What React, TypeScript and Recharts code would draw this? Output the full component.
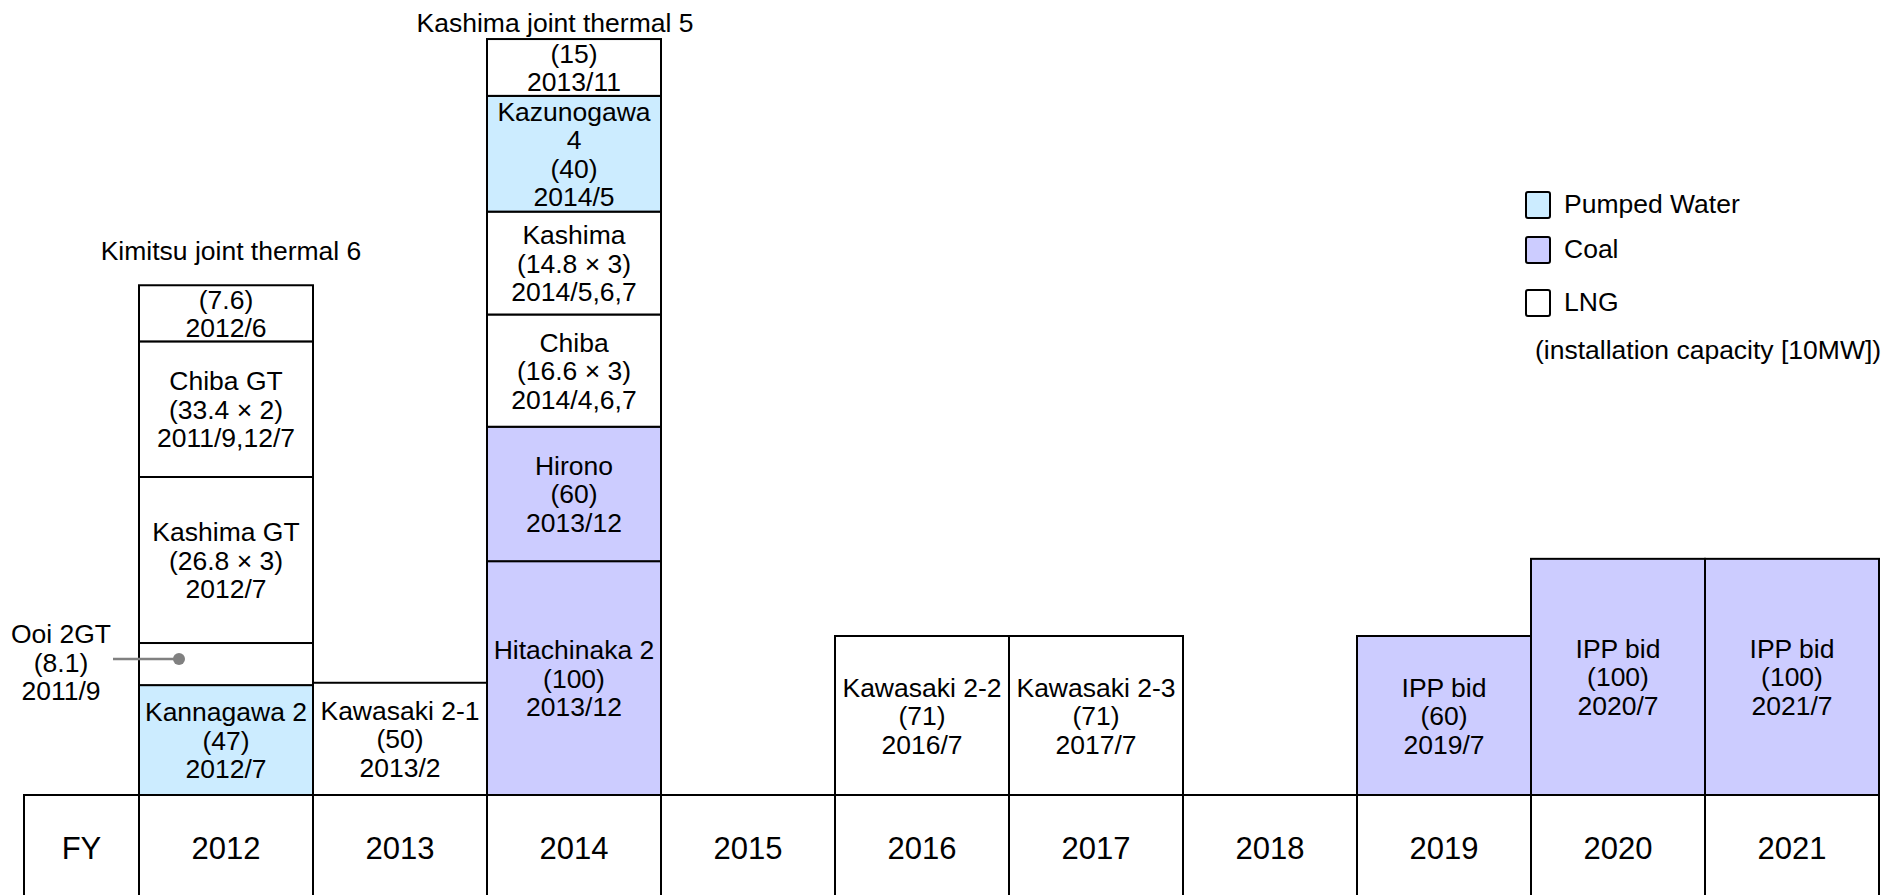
import React from 'react';
import { BarChart, Bar, XAxis, YAxis, Legend } from 'recharts';

const years = ['2012', '2013', '2014', '2015', '2016', '2017', '2018', '2019', '2020', '2021'];

// box heights as drawn in the figure (schematic), stack levels bottom -> top
const level0 = [47, 48, 100, 0, 68, 68, 0, 68, 101, 101];
const level1 = [18, 0, 57.5, 0, 0, 0, 0, 0, 0, 0];
const level2 = [71, 0, 48, 0, 0, 0, 0, 0, 0, 0];
const level3 = [58, 0, 44, 0, 0, 0, 0, 0, 0, 0];
const level4 = [24, 0, 49.5, 0, 0, 0, 0, 0, 0, 0];
const level5 = [0, 0, 24.3, 0, 0, 0, 0, 0, 0, 0];

// fuel type of each box
const kind0 = ['pumped', 'lng', 'coal', '', 'lng', 'lng', '', 'coal', 'coal', 'coal'];
const kind1 = ['lng', '', 'coal', '', '', '', '', '', '', ''];
const kind2 = ['lng', '', 'lng', '', '', '', '', '', '', ''];
const kind3 = ['lng', '', 'lng', '', '', '', '', '', '', ''];
const kind4 = ['lng', '', 'pumped', '', '', '', '', '', '', ''];
const kind5 = ['', '', 'lng', '', '', '', '', '', '', ''];

// box labels (installation capacity [10MW], start date)
const text0 = [
  'Kannagawa 2\n(47)\n2012/7',
  'Kawasaki 2-1\n(50)\n2013/2',
  'Hitachinaka 2\n(100)\n2013/12',
  '',
  'Kawasaki 2-2\n(71)\n2016/7',
  'Kawasaki 2-3\n(71)\n2017/7',
  '',
  'IPP bid\n(60)\n2019/7',
  'IPP bid\n(100)\n2020/7',
  'IPP bid\n(100)\n2021/7',
];
const text1 = ['', '', 'Hirono\n(60)\n2013/12', '', '', '', '', '', '', ''];
const text2 = ['Kashima GT\n(26.8 × 3)\n2012/7', '', 'Chiba\n(16.6 × 3)\n2014/4,6,7', '', '', '', '', '', '', ''];
const text3 = ['Chiba GT\n(33.4 × 2)\n2011/9,12/7', '', 'Kashima\n(14.8 × 3)\n2014/5,6,7', '', '', '', '', '', '', ''];
const text4 = ['(7.6)\n2012/6', '', 'Kazunogawa\n4\n(40)\n2014/5', '', '', '', '', '', '', ''];
const text5 = ['', '', '(15)\n2013/11', '', '', '', '', '', '', ''];

// callout next to the 2012 Ooi box
const callout1 = ['Ooi 2GT\n(8.1)\n2011/9', '', '', '', '', '', '', '', '', ''];

const titles = ['Kimitsu joint thermal 6', '', 'Kashima joint thermal 5', '', '', '', '', '', '', ''];

const fuelNames = ['Pumped Water', 'Coal', 'LNG'];
const fuelKeys = ['pumped', 'coal', 'lng'];
const unitNote = '(installation capacity [10MW])';

const levels = [level0, level1, level2, level3, level4, level5];
const kinds = [kind0, kind1, kind2, kind3, kind4, kind5];
const texts = [text0, text1, text2, text3, text4, text5];

const FILLS: Record<string, string> = { pumped: '#CCECFF', coal: '#CCCCFF', lng: '#FFFFFF' };
const FONT = '"Liberation Sans", Arial, Helvetica, sans-serif';
const W = 1899;
const H = 895;
const M = { top: 0, right: 20, bottom: 0, left: 139 };
const HALF = (W - M.left - M.right) / years.length / 2;
const LINE = 28.5;
const FS = 26.5;
const TICK_FS = 31;

const data = years.map((year, i) => {
  const row: Record<string, any> = { year };
  levels.forEach((lv, k) => {
    row[`h${k}`] = lv[i];
  });
  return row;
});

const topLevel = (i: number) => {
  let top = -1;
  levels.forEach((lv, k) => {
    if (lv[i] > 0) top = k;
  });
  return top;
};

// title nudges
const TITLE_NUDGE: Record<number, [number, number]> = { 0: [5, -35], 2: [-19, -17] };

function Lines({ x, cy, text, size = FS, fill = '#000' }: any) {
  const parts = text.split('\n');
  const n = parts.length;
  return (
    <text x={x} textAnchor="middle" fontFamily={FONT} fontSize={size} fill={fill}>
      {parts.map((p: string, j: number) => (
        <tspan key={j} x={x} y={cy + (j - (n - 1) / 2) * LINE + size * 0.36}>
          {p}
        </tspan>
      ))}
    </text>
  );
}

const makeShape = (level: number) => (props: any) => {
  const { x, y, width, height, index } = props;
  if (!height || height <= 0) return <g />;
  const kind = kinds[level][index];
  const label = texts[level][index];
  const callout = level === 1 ? callout1[index] : '';
  const cx = x + width / 2;
  const cy = y + height / 2;
  const title = topLevel(index) === level ? titles[index] : '';
  const nudge = TITLE_NUDGE[index] || [0, -26];
  return (
    <g>
      <rect x={x} y={y} width={width} height={height} fill={FILLS[kind] || '#fff'} stroke="#000" strokeWidth={2} />
      {label && <Lines x={cx} cy={cy} text={label} />}
      {callout && (
        <g>
          <line x1={x - 26} y1={cy - 5} x2={x + 40} y2={cy - 5} stroke="#808080" strokeWidth={2.5} />
          <circle cx={x + 40} cy={cy - 5} r={6} fill="#808080" />
          <Lines x={x - 78} cy={cy - 2} text={callout} />
        </g>
      )}
      {title && (
        <text x={cx + nudge[0]} y={y + nudge[1] + FS * 0.36} textAnchor="middle" fontFamily={FONT} fontSize={FS}>
          {title}
        </text>
      )}
    </g>
  );
};

const YearTick = (props: any) => {
  const { x, y, payload, index } = props;
  return (
    <g>
      {index === 0 && (
        <g>
          <rect x={x - HALF - 115} y={y} width={115} height={140} fill="none" stroke="#000" strokeWidth={2} />
          <text x={x - HALF - 57.5} y={y + 53 + TICK_FS * 0.36} textAnchor="middle" fontFamily={FONT} fontSize={TICK_FS}>
            FY
          </text>
        </g>
      )}
      <rect x={x - HALF} y={y} width={HALF * 2} height={140} fill="none" stroke="#000" strokeWidth={2} />
      <text x={x} y={y + 53 + TICK_FS * 0.36} textAnchor="middle" fontFamily={FONT} fontSize={TICK_FS}>
        {payload.value}
      </text>
    </g>
  );
};

const rowGaps = [0, 16, 24];

const FuelLegend = () => (
  <div style={{ fontFamily: FONT, fontSize: FS, color: '#000', lineHeight: '29px' }}>
    {fuelNames.map((name, i) => (
      <div key={name} style={{ display: 'flex', alignItems: 'center', marginTop: rowGaps[i], height: 29 }}>
        <div
          style={{
            width: 26,
            height: 28,
            boxSizing: 'border-box',
            border: '2px solid #000',
            borderRadius: 3,
            background: FILLS[fuelKeys[i]],
            marginRight: 13,
          }}
        />
        <span>{name}</span>
      </div>
    ))}
    <div style={{ marginTop: 19, marginLeft: 10, whiteSpace: 'nowrap' }}>{unitNote}</div>
  </div>
);

export default function App() {
  return (
    <div style={{ position: 'absolute', left: 0, top: 0, width: W, height: H, background: '#fff' }}>
      <BarChart width={W} height={H} data={data} margin={M} barCategoryGap={0} barGap={0}>
        <XAxis
          dataKey="year"
          height={100}
          tickSize={0}
          tickMargin={0}
          axisLine={{ stroke: '#000', strokeWidth: 2 }}
          tickLine={false}
          interval={0}
          tick={<YearTick />}
        />
        <YAxis hide domain={[0, 340]} type="number" allowDataOverflow />
        <Legend
          layout="horizontal"
          verticalAlign="middle"
          align="center"
          content={<FuelLegend />}
          wrapperStyle={{ position: 'absolute', left: 1525, top: 190, width: 370 }}
        />
        {levels.map((_, k) => (
          <Bar key={k} dataKey={`h${k}`} stackId="s" isAnimationActive={false} shape={makeShape(k)} />
        ))}
      </BarChart>
    </div>
  );
}
